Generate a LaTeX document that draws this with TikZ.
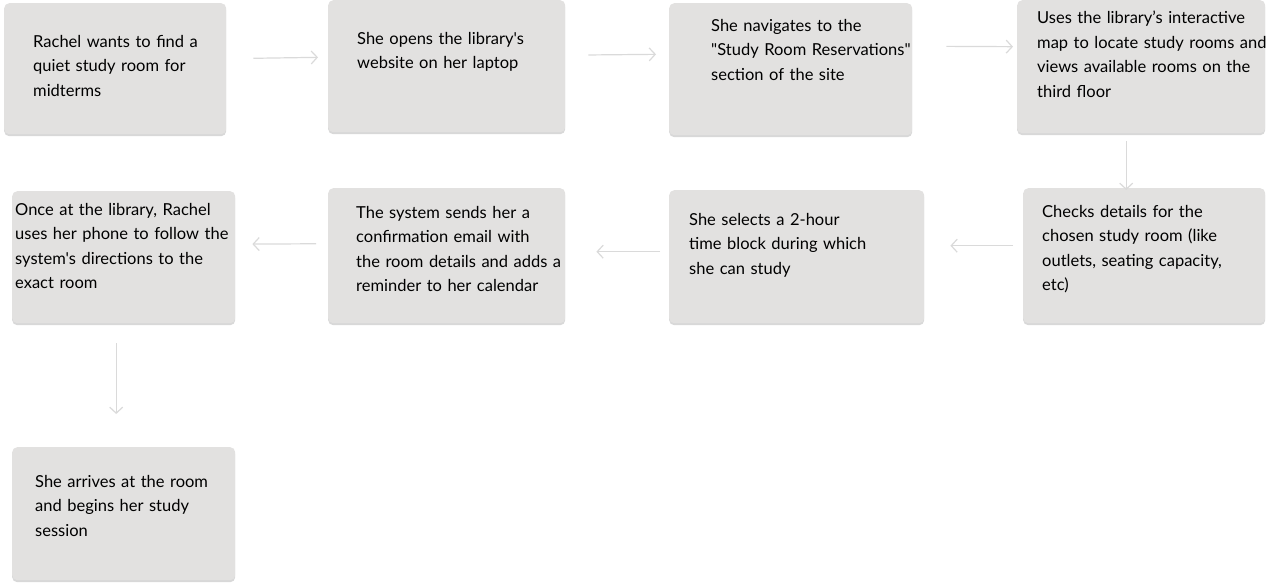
\documentclass[tikz,border=0pt]{standalone}
\usepackage{fontspec}
\setmainfont{Lato}[Ligatures=TeXOff]
\usepackage{xcolor}
\usetikzlibrary{arrows.meta,positioning,shadows}
\definecolor{cardgray}{HTML}{E2E1E0}
\definecolor{flowgray}{HTML}{DADADA}

\begin{document}
\begin{tikzpicture}[x=1pt,y=-1pt]
  \tikzstyle{card}=[rectangle,anchor=north west,inner sep=0pt,rounded corners=5pt,fill=cardgray,
    drop shadow={shadow xshift=0pt,shadow yshift=-2pt,opacity=0.22,fill=black!70}]
  \tikzstyle{txt}=[inner sep=0pt,anchor=north west,align=left,text width=280pt,
    font=\fontsize{16.5}{24.5}\selectfont]
  \tikzstyle{flow}=[draw=flowgray,line width=1.2pt,-{Straight Barb[length=6pt,width=13pt]}]
  \useasboundingbox (0,0) rectangle (1272,588);
  % top row
  \node[card,minimum width=222pt,minimum height=131pt] (b1) at (4,3) {};
  \node[card,minimum width=237pt,minimum height=132pt] (b2) at (328,0) {};
  \node[card,minimum width=243pt,minimum height=132pt] (b3) at (669,3) {};
  \node[card,minimum width=248pt,minimum height=133pt] (b4) at (1017,0) {};
  % middle row
  \node[card,minimum width=242pt,minimum height=135pt] (b5) at (1023,188) {};
  \node[card,minimum width=255pt,minimum height=133pt] (b6) at (669,190) {};
  \node[card,minimum width=237pt,minimum height=135pt] (b7) at (328,188) {};
  \node[card,minimum width=223pt,minimum height=132pt] (b8) at (12,191) {};
  % last step
  \node[card,minimum width=223pt,minimum height=133pt] (b9) at (12,447) {};

  \node[txt,below right=32pt and 29pt of b1.north west] (t1)
    {Rachel wants to find a\\quiet study room for\\midterms};
  \node[txt,below right=32pt and 29pt of b2.north west] (t2)
    {She opens the library's\\website on her laptop};
  \node[txt,below right=16pt and 42pt of b3.north west] (t3)
    {She navigates to the\\"Study Room Reservations"\\section of the site};
  \node[txt,below right=11pt and 20pt of b4.north west] (t4)
    {Uses the library’s interactive\\map to locate study rooms and\\views available rooms on the\\third floor};
  \node[txt,below right=17pt and 19pt of b5.north west] (t5)
    {Checks details for the\\chosen study room (like\\outlets, seating capacity,\\etc)};
  \node[txt,below right=23pt and 20pt of b6.north west] (t6)
    {She selects a 2-hour\\time block during which\\she can study};
  \node[txt,below right=18pt and 28pt of b7.north west] (t7)
    {The system sends her a\\confirmation email with\\the room details and adds a\\reminder to her calendar};
  \node[txt,below right=12pt and 3pt of b8.north west] (t8)
    {Once at the library, Rachel\\uses her phone to follow the\\system's directions to the\\exact room};
  \node[txt,below right=28pt and 23pt of b9.north west] (t9)
    {She arrives at the room\\and begins her study\\session};

  \draw[flow,shorten <=27pt,shorten >=10pt] ([yshift=10pt]b1.east) -- ([yshift=9pt]b2.west);
  \draw[flow,shorten <=23pt,shorten >=13pt] ([yshift=11pt]b2.east) -- ([yshift=15pt]b3.west);
  \draw[flow,shorten <=34pt,shorten >=4pt] ([yshift=23pt]b3.east) -- ([yshift=20pt]b4.west);
  \draw[flow,shorten <=8pt,shorten >=-2pt] ([xshift=-15pt]b4.south) -- ([xshift=-18pt]b5.north);
  \draw[flow,shorten <=10pt,shorten >=26pt] ([yshift=10pt]b5.west) -- ([yshift=11pt]b6.east);
  \draw[flow,shorten <=9pt,shorten >=31pt] ([yshift=5pt]b6.west) -- ([yshift=4pt]b7.east);
  \draw[flow,shorten <=12pt,shorten >=17pt] ([yshift=12pt]b7.west) -- ([yshift=13pt]b8.east);
  \draw[flow,shorten <=20pt,shorten >=33pt] ([xshift=-7.5pt]b8.south) -- ([xshift=-7.5pt]b9.north);
\end{tikzpicture}
\end{document}
